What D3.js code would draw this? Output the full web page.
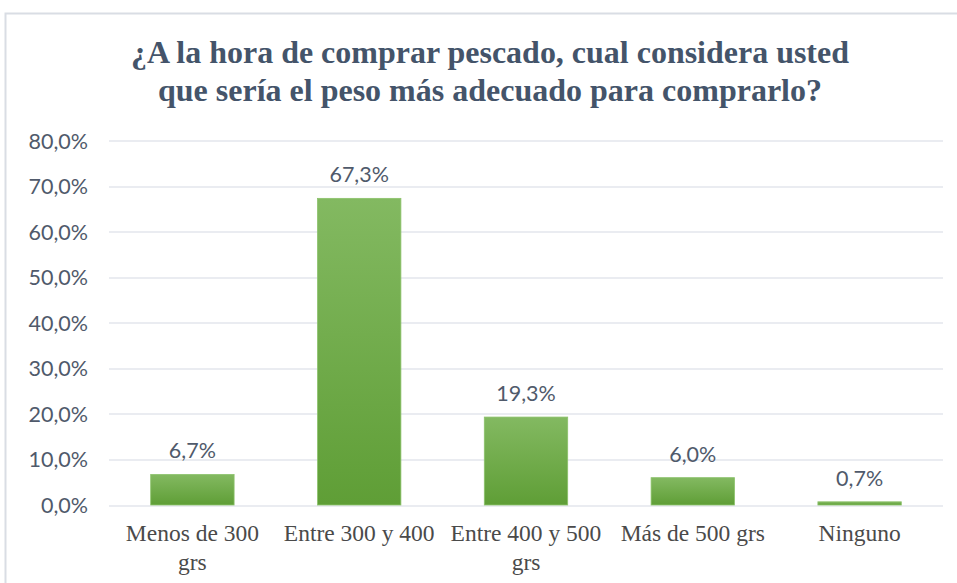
<!DOCTYPE html>
<html>
<head>
<meta charset="utf-8">
<script src="https://cdn.jsdelivr.net/npm/d3@7"></script>
<style>
  body { margin: 0; background: #fff; }
  svg { display: block; }
</style>
</head>
<body>
<script>
// chart data
const categories = ["Menos de 300 grs", "Entre 300 y 400", "Entre 400 y 500 grs", "Más de 500 grs", "Ninguno"];
const categoryLines = [["Menos de 300", "grs"], ["Entre 300 y 400"], ["Entre 400 y 500", "grs"], ["Más de 500 grs"], ["Ninguno"]];
const values = [6.7, 67.3, 19.3, 6.0, 0.7];
const yTicks = [0, 10, 20, 30, 40, 50, 60, 70, 80];
const titleLines = ["¿A la hora de comprar pescado, cual considera usted", "que sería el peso más adecuado para comprarlo?"];

const width = 957, height = 583;
const margin = {top: 140.5, bottom: 78, left: 109, right: 14};
const innerWidth = width - margin.left - margin.right;
const innerHeight = height - margin.top - margin.bottom;

const fmt = v => v.toFixed(1).replace(".", ",") + "%";
const labelFont = "Lato, Carlito, Calibri, sans-serif";

const svg = d3.select("body").append("svg")
  .attr("width", width)
  .attr("height", height);

const defs = svg.append("defs");
const grad = defs.append("linearGradient")
  .attr("id", "barGrad")
  .attr("x1", 0).attr("y1", 0).attr("x2", 0).attr("y2", 1);
grad.append("stop").attr("offset", "0%").attr("stop-color", "#83b961");
grad.append("stop").attr("offset", "100%").attr("stop-color", "#5f9e36");

// outer chart frame (only top and left visible)
svg.append("path")
  .attr("d", `M5.5,${height} V13.5 H${width}`)
  .attr("fill", "none")
  .attr("stroke", "#d9dde4")
  .attr("stroke-width", 2);

// title, one text per line
svg.append("g")
  .selectAll("text")
  .data(titleLines)
  .join("text")
    .attr("x", 490)
    .attr("y", (d, i) => 63 + i * 38)
    .attr("text-anchor", "middle")
    .attr("font-family", "'Liberation Serif', 'Times New Roman', serif")
    .attr("font-weight", "bold")
    .attr("font-size", 31)
    .attr("fill", "#44546a")
    .attr("textLength", (d, i) => i === 0 ? 718 : 664)
    .attr("lengthAdjust", "spacingAndGlyphs")
    .text(d => d);

const g = svg.append("g")
  .attr("transform", `translate(${margin.left}, ${margin.top})`);

const x = d3.scaleBand()
  .domain(categories)
  .range([0, innerWidth])
  .paddingInner(0.5)
  .paddingOuter(0.25);

const y = d3.scaleLinear()
  .domain([0, 80])
  .range([innerHeight, 0]);

// gridlines
g.append("g")
  .selectAll("line")
  .data(yTicks)
  .join("line")
    .attr("x1", 0)
    .attr("x2", innerWidth)
    .attr("y1", d => Math.round(y(d)) + 0.5)
    .attr("y2", d => Math.round(y(d)) + 0.5)
    .attr("stroke", "#e3e6ec")
    .attr("stroke-width", 1.3);

// y axis
const yAxis = d3.axisLeft(y)
  .tickValues(yTicks)
  .tickSize(0)
  .tickPadding(21)
  .tickFormat(fmt);

g.append("g")
  .call(yAxis)
  .attr("font-family", labelFont)
  .attr("font-size", 21.5)
  .call(s => s.select(".domain").remove())
  .selectAll("text")
    .attr("fill", "#505a6b")
    .attr("dy", "0.35em");

// bars
g.append("g")
  .selectAll("rect")
  .data(values)
  .join("rect")
    .attr("x", (d, i) => x(categories[i]))
    .attr("y", d => y(d))
    .attr("width", x.bandwidth())
    .attr("height", d => innerHeight - y(d))
    .attr("fill", "url(#barGrad)")
    .attr("stroke", "#8cc26b")
    .attr("stroke-width", 0.8);

// data labels
g.append("g")
  .selectAll("text")
  .data(values)
  .join("text")
    .attr("x", (d, i) => x(categories[i]) + x.bandwidth() / 2)
    .attr("y", d => y(d) - 16)
    .attr("text-anchor", "middle")
    .attr("font-family", labelFont)
    .attr("font-size", 21.5)
    .attr("fill", "#505a6b")
    .text(d => fmt(d));

// x axis labels, one text per line
const xLabelRows = categories.flatMap((c, i) => categoryLines[i].map((t, j) => ({c, t, j})));

g.append("g")
  .attr("transform", `translate(0, ${innerHeight})`)
  .selectAll("text")
  .data(xLabelRows)
  .join("text")
    .attr("x", d => x(d.c) + x.bandwidth() / 2)
    .attr("y", d => 36 + d.j * 29)
    .attr("text-anchor", "middle")
    .attr("font-family", "'Liberation Serif', 'Times New Roman', serif")
    .attr("font-size", 23.5)
    .attr("fill", "#4a4a4a")
    .text(d => d.t);
</script>
</body>
</html>
